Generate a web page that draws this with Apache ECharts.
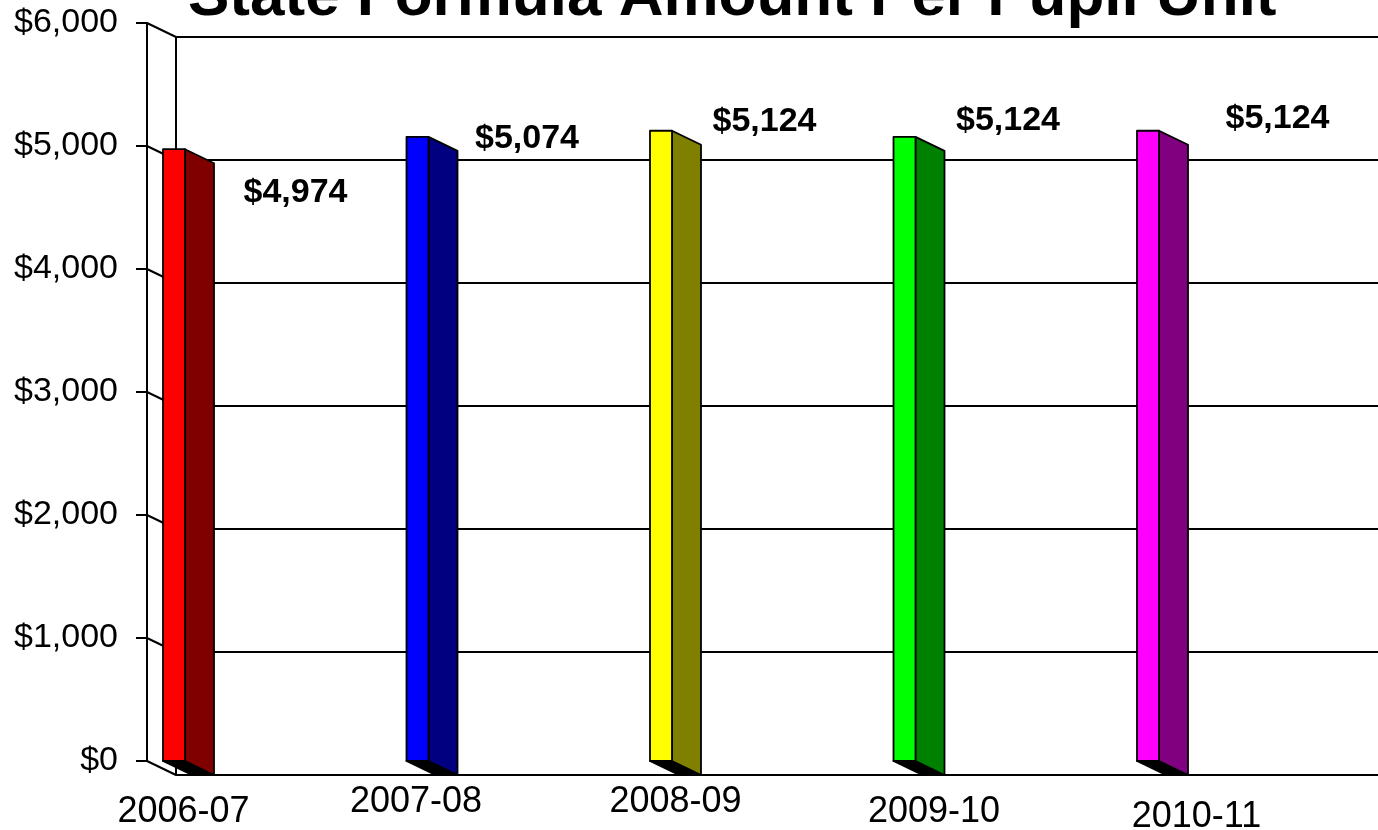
<!DOCTYPE html>
<html>
<head>
<meta charset="utf-8">
<title>State Formula Amount Per Pupil Unit</title>
<script src="https://cdn.jsdelivr.net/npm/echarts@6.0.0/dist/echarts.min.js"></script>
<style>
  html, body { margin: 0; padding: 0; background: #fff; }
  #chart { width: 1378px; height: 830px; }
</style>
</head>
<body>
<div id="chart"></div>
<script>
// data
var categories = ['2006-07', '2007-08', '2008-09', '2009-10', '2010-11'];
var amounts = [4974, 5074, 5124, 5074, 5124];
var valueLabels = ['$4,974', '$5,074', '$5,124', '$5,124', '$5,124'];
var yTicks = [0, 1000, 2000, 3000, 4000, 5000, 6000];

// look
var frontColors = ['#ff0000', '#0000ff', '#ffff00', '#00ff00', '#ff00ff'];
var sideColors = ['#800000', '#000080', '#808000', '#008000', '#800080'];
var FONT = '"Liberation Sans", Arial, sans-serif';
var DX = 29, DY = 14;      // depth of the fake 3d
var FACE_W = 22;
// where the value labels sit, relative to the bar top
var labelShift = [[107, 43], [95, 2], [89, -9], [89, -16], [115, -12]];
// nudges for the category labels [dx, dy]
var catShift = [[-5, 10], [-16, 0], [0, 0], [15, 10], [34, 15]];

var chart = echarts.init(document.getElementById('chart'));

function catData() {
  return categories.map(function (c, i) {
    var dx = catShift[i][0], dy = catShift[i][1];
    return {
      value: c,
      textStyle: {
        padding: [dy, dx < 0 ? -2 * dx : 0, 0, dx > 0 ? 2 * dx : 0]
      }
    };
  });
}

function renderDiag(params, api) {
  var p = api.coord([0, api.value(1)]);
  return {
    type: 'line',
    shape: { x1: p[0], y1: p[1], x2: p[0] + DX, y2: p[1] + DY },
    style: { stroke: '#000', lineWidth: 2 }
  };
}

function renderBar(params, api) {
  var i = params.dataIndex;
  var top = api.coord([api.value(0), api.value(1)]);
  var base = api.coord([api.value(0), 0]);
  var x1 = top[0] - (FACE_W + DX) / 2;
  var x2 = x1 + FACE_W;
  var yt = top[1], yb = base[1];
  var line = { stroke: '#000', lineWidth: 1.8, lineJoin: 'round' };
  return {
    type: 'group',
    children: [
      {
        type: 'polygon',
        shape: { points: [[x1, yb], [x2, yb], [x2 + DX, yb + DY], [x1 + DX, yb + DY]] },
        style: Object.assign({ fill: '#000' }, line)
      },
      {
        type: 'polygon',
        shape: { points: [[x2, yt], [x2 + DX, yt + DY], [x2 + DX, yb + DY], [x2, yb]] },
        style: Object.assign({ fill: sideColors[i] }, line)
      },
      {
        type: 'rect',
        shape: { x: x1, y: yt, width: FACE_W, height: yb - yt },
        style: Object.assign({ fill: frontColors[i] }, line)
      },
      {
        type: 'text',
        x: top[0] + labelShift[i][0],
        y: yt + labelShift[i][1],
        style: {
          text: valueLabels[i],
          fontSize: 34,
          fontWeight: 'bold',
          fontFamily: FONT,
          fill: '#000',
          align: 'center',
          verticalAlign: 'middle'
        }
      }
    ]
  };
}

var option = {
  backgroundColor: '#fff',
  animation: false,
  title: {
    text: 'State Formula Amount Per Pupil Unit',
    left: 188,
    top: -33,
    padding: 0,
    textStyle: { fontSize: 62, fontWeight: 'bold', fontFamily: FONT, color: '#000', lineHeight: 62 }
  },
  grid: [
    // front axis
    { left: 147, top: 23, bottom: 69, width: 10, outerBoundsMode: 'none' },
    // back wall
    { left: 176, top: 37, bottom: 55, right: -60, outerBoundsMode: 'none' },
    // bars
    { left: 188.5, top: 23, bottom: 69, right: 215.5, outerBoundsMode: 'none' }
  ],
  xAxis: [
    { gridIndex: 0, type: 'value', min: 0, max: 1, show: false },
    { gridIndex: 1, type: 'value', min: 0, max: 1, show: false },
    {
      gridIndex: 2,
      type: 'category',
      data: catData(),
      boundaryGap: false,
      axisLine: { show: false },
      axisTick: { show: false },
      axisLabel: {
        margin: 23,
        fontSize: 36,
        lineHeight: 36,
        fontFamily: FONT,
        color: '#000',
        interval: 0
      }
    }
  ],
  yAxis: [
    {
      gridIndex: 0,
      type: 'value',
      min: 0, max: 6000, interval: 1000,
      axisLine: { show: true, lineStyle: { color: '#000', width: 2 } },
      axisTick: { show: true, length: 11, lineStyle: { color: '#000', width: 2 } },
      splitLine: { show: false },
      axisLabel: {
        margin: 29,
        fontSize: 34,
        fontFamily: FONT,
        color: '#000',
        formatter: function (v) { return '$' + v.toLocaleString('en-US'); }
      }
    },
    {
      gridIndex: 1,
      type: 'value',
      min: 0, max: 6000, interval: 1000,
      axisLine: { show: true, lineStyle: { color: '#000', width: 2 } },
      axisTick: { show: false },
      axisLabel: { show: false },
      splitLine: { show: true, lineStyle: { color: '#000', width: 2 } }
    },
    {
      gridIndex: 2,
      type: 'value',
      min: 0, max: 6000, interval: 1000,
      show: false
    }
  ],
  series: [
    {
      type: 'custom',
      xAxisIndex: 0, yAxisIndex: 0,
      renderItem: renderDiag,
      data: yTicks.map(function (v) { return [0, v]; }),
      z: 1,
      silent: true
    },
    {
      type: 'custom',
      xAxisIndex: 2, yAxisIndex: 2,
      renderItem: renderBar,
      encode: { x: 0, y: 1 },
      data: amounts.map(function (v, i) { return [i, v]; }),
      z: 5
    }
  ]
};

chart.setOption(option);
</script>
</body>
</html>
